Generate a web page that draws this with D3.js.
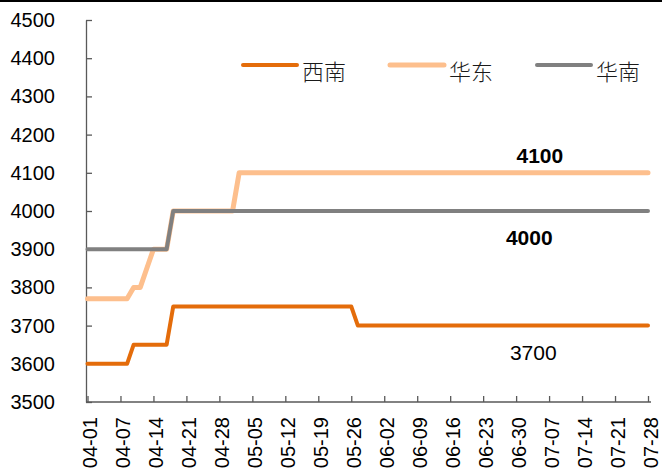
<!DOCTYPE html>
<html>
<head>
<meta charset="utf-8">
<script src="https://cdn.jsdelivr.net/npm/d3@7"></script>
<style>
  body { margin: 0; background: #fff; }
  svg { display: block; font-family: "Liberation Sans", Arial, sans-serif; }
  .axis path, .axis line { stroke: #595959; stroke-width: 1.3; }
  .axis text { fill: #000; font-size: 20px; }
</style>
</head>
<body>
<svg id="chart" width="662" height="471"></svg>
<script>
// tick labels, one every 5 points
var tickLabels = ["04-01","04-07","04-14","04-21","04-28","05-05","05-12","05-19","05-26",
                  "06-02","06-09","06-16","06-23","06-30","07-07","07-14","07-21","07-28"];

var seriesNames = ["西南", "华东", "华南"];

// 86 points
var xiNan = [
  3600,3600,3600,3600,3600,3600,3600,3650,3650,3650,
  3650,3650,3650,3750,3750,3750,3750,3750,3750,3750,
  3750,3750,3750,3750,3750,3750,3750,3750,3750,3750,
  3750,3750,3750,3750,3750,3750,3750,3750,3750,3750,
  3750,3700,3700,3700,3700,3700,3700,3700,3700,3700,
  3700,3700,3700,3700,3700,3700,3700,3700,3700,3700,
  3700,3700,3700,3700,3700,3700,3700,3700,3700,3700,
  3700,3700,3700,3700,3700,3700,3700,3700,3700,3700,
  3700,3700,3700,3700,3700,3700
];
var huaDong = [
  3770,3770,3770,3770,3770,3770,3770,3800,3800,3850,
  3900,3900,3900,4000,4000,4000,4000,4000,4000,4000,
  4000,4000,4000,4100,4100,4100,4100,4100,4100,4100,
  4100,4100,4100,4100,4100,4100,4100,4100,4100,4100,
  4100,4100,4100,4100,4100,4100,4100,4100,4100,4100,
  4100,4100,4100,4100,4100,4100,4100,4100,4100,4100,
  4100,4100,4100,4100,4100,4100,4100,4100,4100,4100,
  4100,4100,4100,4100,4100,4100,4100,4100,4100,4100,
  4100,4100,4100,4100,4100,4100
];
var huaNan = [
  3900,3900,3900,3900,3900,3900,3900,3900,3900,3900,
  3900,3900,3900,4000,4000,4000,4000,4000,4000,4000,
  4000,4000,4000,4000,4000,4000,4000,4000,4000,4000,
  4000,4000,4000,4000,4000,4000,4000,4000,4000,4000,
  4000,4000,4000,4000,4000,4000,4000,4000,4000,4000,
  4000,4000,4000,4000,4000,4000,4000,4000,4000,4000,
  4000,4000,4000,4000,4000,4000,4000,4000,4000,4000,
  4000,4000,4000,4000,4000,4000,4000,4000,4000,4000,
  4000,4000,4000,4000,4000,4000
];

// end-value callouts: [point index, value]
var callouts = [[68.6, 4100], [67, 4000], [67.6, 3700]];

var svg = d3.select("#chart");
var colors = ["#e46c0a", "#fdbf8d", "#808080"];
var widths = [4, 5, 4];

// black rule on top of the picture
svg.append("rect").attr("x", 0).attr("y", 0).attr("width", 662).attr("height", 2).attr("fill", "#000");

var xScale = d3.scaleLinear().domain([0, xiNan.length - 1]).range([87.5, 648]);
var yScale = d3.scaleLinear().domain([3500, 4500]).range([402, 20]);

var xAxis = d3.axisBottom(xScale)
    .tickValues(d3.range(0, xiNan.length, 5))
    .tickFormat(function(d, i) { return tickLabels[i]; })
    .tickSizeInner(-6).tickSizeOuter(0);

var gx = svg.append("g").attr("class", "axis axis-x")
    .attr("transform", "translate(0," + yScale(3500) + ")")
    .call(xAxis);
gx.select(".domain").attr("d", "M86,0H651");
gx.selectAll("text")
    .attr("transform", "rotate(-90)")
    .attr("text-anchor", "end")
    .attr("x", -15)
    .attr("y", 2)
    .attr("dy", "0.35em");

var yAxis = d3.axisLeft(yScale).ticks(10).tickFormat(d3.format("d"))
    .tickSizeInner(-6).tickSizeOuter(0).tickPadding(31);

svg.append("g").attr("class", "axis axis-y")
    .attr("transform", "translate(86,0)")
    .call(yAxis);

var line = d3.line()
    .x(function(d, i) { return xScale(i); })
    .y(function(d) { return yScale(d); });

// 华东 first so the thinner lines sit on top
var order = [1, 2, 0];
var allSeries = [xiNan, huaDong, huaNan];
order.forEach(function(k) {
  svg.append("path")
    .datum(allSeries[k])
    .attr("fill", "none")
    .attr("stroke", colors[k])
    .attr("stroke-width", widths[k])
    .attr("stroke-linejoin", "round")
    .attr("stroke-linecap", "round")
    .attr("d", line);
});

// legend
var legendX = [243, 390, 537];
seriesNames.forEach(function(name, i) {
  svg.append("line")
    .attr("x1", legendX[i]).attr("x2", legendX[i] + 54)
    .attr("y1", 65).attr("y2", 65)
    .attr("stroke", colors[i]).attr("stroke-width", widths[i])
    .attr("stroke-linecap", "round");
  svg.append("text")
    .attr("x", legendX[i] + 59).attr("y", 70)
    .attr("dominant-baseline", "central")
    .style("font-family", "'Noto Sans CJK SC', sans-serif")
    .style("font-size", "22px")
    .style("font-weight", 300)
    .attr("fill", "#1a1a1a")
    .text(name);
});

// callout numbers
var calloutDy = [-10, 34, 34];
callouts.forEach(function(c, i) {
  svg.append("text")
    .attr("x", xScale(c[0]))
    .attr("y", yScale(c[1]) + calloutDy[i])
    .attr("text-anchor", "middle")
    .style("font-size", "21px")
    .style("font-weight", i < 2 ? "bold" : "normal")
    .attr("fill", "#000")
    .text(c[1]);
});
</script>
</body>
</html>
